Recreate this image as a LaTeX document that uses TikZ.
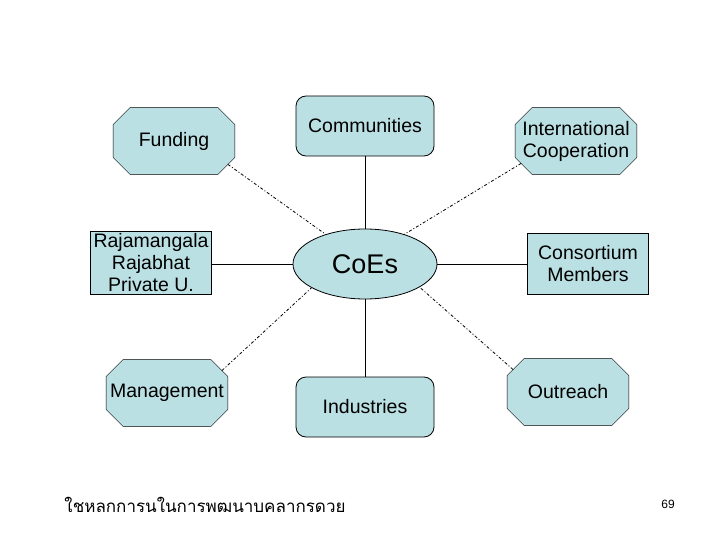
\documentclass[tikz,border=0pt]{standalone}
\usepackage{fontspec}
\setmainfont{Liberation Sans}
\newfontfamily\thaifont[Script=Thai]{Loma}
\usetikzlibrary{shapes.geometric, backgrounds}
\definecolor{boxblue}{RGB}{187,224,227}
\newcommand\octagon[1]{\filldraw [fill=boxblue] ([xshift=17pt]#1.north west) -- ([xshift=-17pt]#1.north east) -- ([yshift=-17pt]#1.north east) -- ([yshift=17pt]#1.south east) -- ([xshift=-17pt]#1.south east) -- ([xshift=17pt]#1.south west) -- ([yshift=17pt]#1.south west) -- ([yshift=-17pt]#1.north west) -- cycle;}

\begin{document}
\begin{tikzpicture}[x=1pt, y=-1pt, line width=.8pt,
  every node/.style={draw, fill=boxblue, align=center, inner sep=0pt, font=\fontsize{19.5}{22}\selectfont},
  octa/.style={rectangle, draw=none, fill=none, minimum width=121pt, minimum height=66pt},
  rbox/.style={rectangle, rounded corners=10pt, minimum width=138pt, minimum height=60pt},
  sbox/.style={rectangle, minimum width=121pt, minimum height=63pt},
  dotline/.style={dash pattern=on 3pt off 2pt on 1pt off 2pt}]
  \useasboundingbox (0,0) rectangle (720,540);
  \node (fund) [octa] at (174, 141) {Funding};
  \node (intl) [octa] at (576, 141) {International\\Cooperation};
  \node (mgmt) [octa] at (167, 393) {Management};
  \node (outr) [octa] at (568, 392) {Outreach};
  \node (comm) [rbox] at (365, 126) {Communities};
  \node (indu) [rbox] at (365, 407) {Industries};
  \node (raja) [sbox] at (151, 263) {Rajamangala\\Rajabhat\\Private U.};
  \node (cons) [sbox, minimum height=61pt] at (588, 264) {Consortium\\Members};
  \node (coes) [ellipse, minimum width=144pt, minimum height=70pt, font=\fontsize{27}{30}\selectfont] at (365, 264) {CoEs};
  \node [draw=none, fill=none, font=\fontsize{17}{20}\thaifont] (foot) at (205, 505) {ใชหลกการนในการพฒนาบคลากรดวย};
  \node [draw=none, fill=none, font=\fontsize{12}{14}\selectfont] (page) at (668, 504) {69};
  \begin{scope}[on background layer]
    \octagon{fund}
    \octagon{intl}
    \octagon{mgmt}
    \octagon{outr}
  \end{scope}
  \draw (comm) -- (coes);
  \draw (coes) -- (indu);
  \draw (raja.east |- coes) -- (coes);
  \draw (coes) -- (cons);
  \draw [dotline] ([xshift=-7pt, yshift=10pt]fund.south east) -- (coes.143);
  \draw [dotline] ([xshift=6pt, yshift=11pt]intl.south west) -- (coes.37);
  \draw [dotline] ([xshift=-6pt, yshift=-11pt]mgmt.north east) -- (coes.204);
  \draw [dotline] ([xshift=6pt, yshift=-11pt]outr.north west) -- (coes.-23);
\end{tikzpicture}
\end{document}
